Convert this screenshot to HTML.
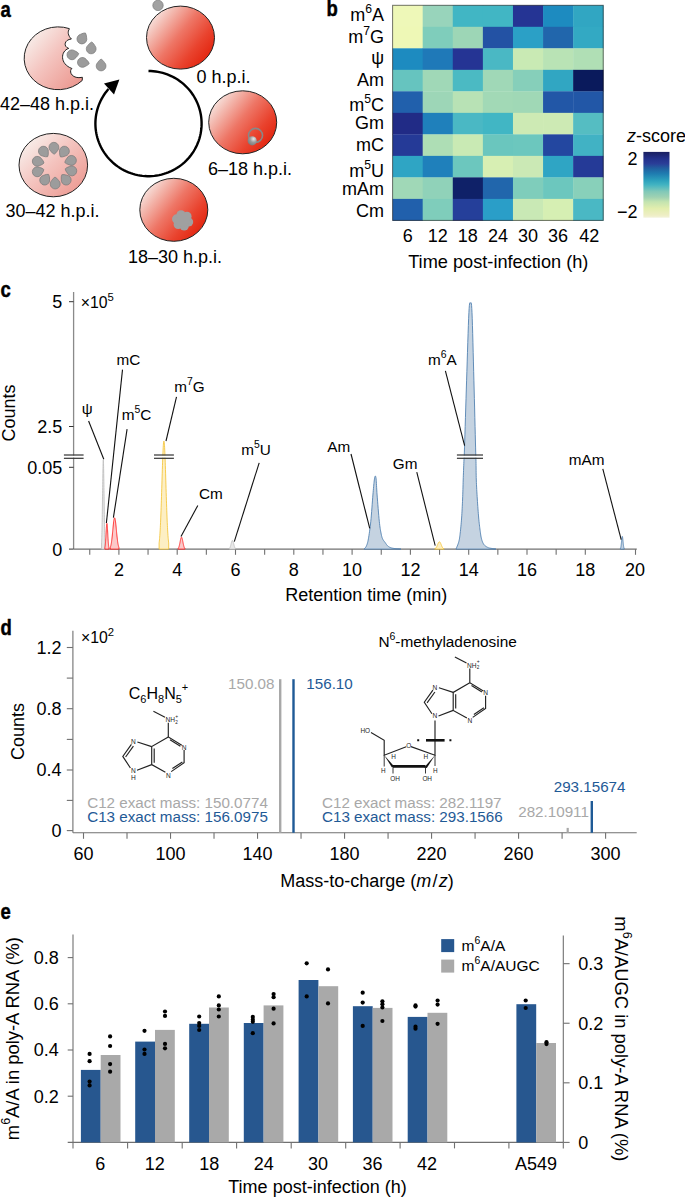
<!DOCTYPE html>
<html><head><meta charset="utf-8"><style>
html,body{margin:0;padding:0;background:#fff;}
svg{display:block;}
text{font-family:"Liberation Sans",sans-serif;}
</style></head><body>
<svg width="685" height="1197" viewBox="0 0 685 1197" font-family="Liberation Sans, sans-serif">
<defs>
<linearGradient id="gred" x1="0.08" y1="0.12" x2="0.98" y2="0.8">
 <stop offset="0" stop-color="#f8ece8"/>
 <stop offset="0.2" stop-color="#f3b8ae"/>
 <stop offset="0.46" stop-color="#ee7666"/>
 <stop offset="0.74" stop-color="#e9432e"/>
 <stop offset="1" stop-color="#e2200a"/>
</linearGradient>
<linearGradient id="gpink" x1="0.1" y1="0.1" x2="0.95" y2="0.9">
 <stop offset="0" stop-color="#f8f0ec"/>
 <stop offset="0.45" stop-color="#f4c4bf"/>
 <stop offset="1" stop-color="#ec9890"/>
</linearGradient>
<radialGradient id="gnuc" cx="0.65" cy="0.3" r="0.75">
 <stop offset="0" stop-color="#e8e8e8"/>
 <stop offset="0.5" stop-color="#9a9a9a"/>
 <stop offset="1" stop-color="#7a7a7a"/>
</radialGradient>
<linearGradient id="gbar" x1="0" y1="0" x2="0" y2="1">
 <stop offset="0" stop-color="#1a1f60"/>
 <stop offset="0.1" stop-color="#23308a"/>
 <stop offset="0.18" stop-color="#2a3e98"/>
 <stop offset="0.25" stop-color="#2160a0"/>
 <stop offset="0.33" stop-color="#1f7cb0"/>
 <stop offset="0.43" stop-color="#2ca0bc"/>
 <stop offset="0.5" stop-color="#42b4c2"/>
 <stop offset="0.6" stop-color="#80c8b8"/>
 <stop offset="0.69" stop-color="#a0d2b2"/>
 <stop offset="0.76" stop-color="#c4e4b0"/>
 <stop offset="0.86" stop-color="#e2eeae"/>
 <stop offset="0.96" stop-color="#eeeec4"/>
 <stop offset="1" stop-color="#f2f2da"/>
</linearGradient>
</defs>
<rect width="685" height="1197" fill="#fff"/>
<text transform="translate(0.5,17.0) scale(0.86,1)" font-size="21.5" font-weight="bold" stroke="#000" stroke-width="0.45">a</text>
<path d="M148.50,71.00 L150.90,71.05 L153.30,71.22 L155.68,71.48 L158.06,71.86 L160.41,72.34 L162.74,72.93 L165.03,73.61 L167.30,74.41 L169.52,75.30 L171.71,76.29 L173.84,77.38 L175.93,78.56 L177.96,79.83 L179.92,81.20 L181.83,82.65 L183.66,84.18 L185.43,85.80 L187.11,87.49 L188.72,89.26 L190.25,91.10 L191.69,93.00 L193.04,94.96 L194.30,96.99 L195.47,99.07 L196.54,101.20 L197.52,103.37 L198.39,105.59 L199.16,107.84 L199.83,110.13 L200.39,112.44 L200.85,114.78 L201.20,117.13 L201.44,119.50 L201.57,121.87 L201.60,124.25 L201.51,126.63 L201.32,129.00 L201.02,131.36 L200.61,133.70 L200.10,136.03 L199.48,138.33 L198.75,140.59 L197.92,142.83 L197.00,145.02 L195.97,147.17 L194.84,149.27 L193.63,151.32 L192.31,153.32 L190.91,155.25 L189.42,157.12 L187.85,158.92 L186.20,160.64 L184.47,162.29 L182.67,163.86 L180.79,165.35 L178.86,166.76 L176.85,168.07 L174.80,169.30 L172.68,170.43 L170.52,171.46 L168.31,172.40 L166.06,173.24 L163.78,173.97 L161.47,174.61 L159.12,175.14 L156.76,175.56 L154.38,175.88 L151.99,176.09 L149.59,176.19 L147.19,176.18 L144.79,176.07 L142.40,175.85 L140.02,175.52 L137.66,175.09 L135.32,174.55 L133.00,173.91 L130.72,173.17 L128.48,172.32 L126.28,171.37 L124.12,170.33 L122.01,169.19 L119.96,167.95 L117.96,166.63 L116.03,165.22 L114.16,163.72 L112.37,162.14 L110.64,160.48 L109.00,158.75 L107.43,156.95 L105.95,155.07 L104.56,153.13 L103.26,151.14 L102.05,149.08 L100.93,146.97 L99.91,144.82 L98.99,142.62 L98.18,140.38 L97.46,138.11 L96.85,135.81 L96.35,133.49 L95.95,131.14 L95.66,128.78 L95.48,126.41 L95.40,124.03 L95.44,121.65 L95.58,119.27 L95.83,116.91 L96.19,114.56 L96.66,112.22 L97.23,109.91 L97.91,107.63 L98.69,105.38 L99.57,103.17 L100.55,101.00 L101.63,98.87 L102.81,96.80 L104.08,94.78 L105.44,92.82 L106.89,90.92 L108.42,89.09" fill="none" stroke="#000" stroke-width="2.4"/>
<path d="M119.4,79.6 L104.0,83.6 L114.0,94.4 Z" fill="#000"/>
<circle cx="158.0" cy="5.4" r="5.2" fill="#a2a2a2" stroke="#7a7a7a" stroke-width="0.7"/>
<ellipse cx="180.5" cy="37.6" rx="34.0" ry="31.5" fill="url(#gred)" stroke="#222" stroke-width="1"/>
<text x="196.50" y="82.50" font-size="18" text-anchor="start" fill="#000" >0 h.p.i.</text>
<ellipse cx="242.7" cy="122.3" rx="34.0" ry="31.5" fill="url(#gred)" stroke="#222" stroke-width="1"/>
<circle cx="255.5" cy="135.4" r="7.0" fill="none" stroke="#888" stroke-width="1.6"/>
<circle cx="252.2" cy="140.8" r="4.6" fill="url(#gnuc)"/>
<text x="208.00" y="175.00" font-size="18" text-anchor="start" fill="#000" >6–18 h.p.i.</text>
<ellipse cx="173.8" cy="209.8" rx="34.0" ry="31.5" fill="url(#gred)" stroke="#222" stroke-width="1"/>
<circle cx="188.59" cy="221.90" r="4.6" fill="#a0a0a0"/><circle cx="184.20" cy="226.00" r="4.6" fill="#a0a0a0"/><circle cx="178.22" cy="224.50" r="4.6" fill="#a0a0a0"/><circle cx="176.61" cy="218.90" r="4.6" fill="#a0a0a0"/><circle cx="181.00" cy="214.80" r="4.6" fill="#a0a0a0"/><circle cx="186.98" cy="216.30" r="4.6" fill="#a0a0a0"/>
<circle cx="182.6" cy="220.4" r="6.5" fill="#a0a0a0"/>
<text x="128.00" y="262.50" font-size="18" text-anchor="start" fill="#000" >18–30 h.p.i.</text>
<ellipse cx="53.3" cy="165.1" rx="34.3" ry="31.7" fill="url(#gpink)" stroke="#222" stroke-width="1"/>
<path d="M0.00,-6.93 Q1.91,-5.98 3.46,-3.54 A4.95,4.95 0 1 1 -3.46,-3.54 Q-1.91,-5.98 0.00,-6.93 Z" transform="translate(53.90,147.30) rotate(177.8)" fill="#9c9c9c" stroke="#7c7c7c" stroke-width="0.7"/>
<path d="M0.00,-6.93 Q1.91,-5.98 3.46,-3.54 A4.95,4.95 0 1 1 -3.46,-3.54 Q-1.91,-5.98 0.00,-6.93 Z" transform="translate(64.40,151.20) rotate(214.1)" fill="#9c9c9c" stroke="#7c7c7c" stroke-width="0.7"/>
<path d="M0.00,-6.93 Q1.91,-5.98 3.46,-3.54 A4.95,4.95 0 1 1 -3.46,-3.54 Q-1.91,-5.98 0.00,-6.93 Z" transform="translate(71.40,160.40) rotate(252.5)" fill="#9c9c9c" stroke="#7c7c7c" stroke-width="0.7"/>
<path d="M0.00,-6.93 Q1.91,-5.98 3.46,-3.54 A4.95,4.95 0 1 1 -3.46,-3.54 Q-1.91,-5.98 0.00,-6.93 Z" transform="translate(71.80,170.90) rotate(-73.2)" fill="#9c9c9c" stroke="#7c7c7c" stroke-width="0.7"/>
<path d="M0.00,-6.93 Q1.91,-5.98 3.46,-3.54 A4.95,4.95 0 1 1 -3.46,-3.54 Q-1.91,-5.98 0.00,-6.93 Z" transform="translate(66.20,180.10) rotate(-38.9)" fill="#9c9c9c" stroke="#7c7c7c" stroke-width="0.7"/>
<path d="M0.00,-6.93 Q1.91,-5.98 3.46,-3.54 A4.95,4.95 0 1 1 -3.46,-3.54 Q-1.91,-5.98 0.00,-6.93 Z" transform="translate(55.20,184.00) rotate(-1.9)" fill="#9c9c9c" stroke="#7c7c7c" stroke-width="0.7"/>
<path d="M0.00,-6.93 Q1.91,-5.98 3.46,-3.54 A4.95,4.95 0 1 1 -3.46,-3.54 Q-1.91,-5.98 0.00,-6.93 Z" transform="translate(44.70,180.10) rotate(34.5)" fill="#9c9c9c" stroke="#7c7c7c" stroke-width="0.7"/>
<path d="M0.00,-6.93 Q1.91,-5.98 3.46,-3.54 A4.95,4.95 0 1 1 -3.46,-3.54 Q-1.91,-5.98 0.00,-6.93 Z" transform="translate(37.30,171.80) rotate(70.6)" fill="#9c9c9c" stroke="#7c7c7c" stroke-width="0.7"/>
<path d="M0.00,-6.93 Q1.91,-5.98 3.46,-3.54 A4.95,4.95 0 1 1 -3.46,-3.54 Q-1.91,-5.98 0.00,-6.93 Z" transform="translate(37.30,161.30) rotate(104.3)" fill="#9c9c9c" stroke="#7c7c7c" stroke-width="0.7"/>
<path d="M0.00,-6.93 Q1.91,-5.98 3.46,-3.54 A4.95,4.95 0 1 1 -3.46,-3.54 Q-1.91,-5.98 0.00,-6.93 Z" transform="translate(43.40,151.20) rotate(142.3)" fill="#9c9c9c" stroke="#7c7c7c" stroke-width="0.7"/>
<text x="5.50" y="216.50" font-size="18" text-anchor="start" fill="#000" >30–42 h.p.i.</text>
<path d="M69.3,28.6 L69.3,29.1 C67.5,31.5 67.8,35.5 71.4,39.0 C64.5,39.5 62.8,46.5 68.7,48.4 C60.5,51 59.5,64 71.9,68.5 C68.5,71 71.5,79.5 82.4,77.3 L82.2,80.5 A34,31.4 0 1 1 69.3,28.6 Z" fill="url(#gpink)" stroke="#222" stroke-width="1"/>
<path d="M0.00,-6.96 Q1.91,-5.94 3.48,-3.45 A4.9,4.9 0 1 1 -3.48,-3.45 Q-1.91,-5.94 0.00,-6.96 Z" transform="translate(81.90,39.00) rotate(30.0)" fill="#9c9c9c" stroke="#7c7c7c" stroke-width="0.7"/>
<path d="M0.00,-6.96 Q1.91,-5.94 3.48,-3.45 A4.9,4.9 0 1 1 -3.48,-3.45 Q-1.91,-5.94 0.00,-6.96 Z" transform="translate(91.20,48.90) rotate(5.0)" fill="#9c9c9c" stroke="#7c7c7c" stroke-width="0.7"/>
<path d="M0.00,-6.96 Q1.91,-5.94 3.48,-3.45 A4.9,4.9 0 1 1 -3.48,-3.45 Q-1.91,-5.94 0.00,-6.96 Z" transform="translate(71.90,54.80) rotate(80.0)" fill="#9c9c9c" stroke="#7c7c7c" stroke-width="0.7"/>
<path d="M0.00,-6.96 Q1.91,-5.94 3.48,-3.45 A4.9,4.9 0 1 1 -3.48,-3.45 Q-1.91,-5.94 0.00,-6.96 Z" transform="translate(82.40,62.40) rotate(100.0)" fill="#9c9c9c" stroke="#7c7c7c" stroke-width="0.7"/>
<path d="M0.00,-6.96 Q1.91,-5.94 3.48,-3.45 A4.9,4.9 0 1 1 -3.48,-3.45 Q-1.91,-5.94 0.00,-6.96 Z" transform="translate(101.10,66.00) rotate(0.0)" fill="#9c9c9c" stroke="#7c7c7c" stroke-width="0.7"/>
<text x="0.00" y="109.50" font-size="18" text-anchor="start" fill="#000" >42–48 h.p.i.</text>
<text transform="translate(326.4,15.9) scale(0.86,1)" font-size="21.5" font-weight="bold" stroke="#000" stroke-width="0.45">b</text>
<rect x="392.60" y="5.30" width="30.39" height="21.81" fill="#eef8b8" />
<rect x="422.69" y="5.30" width="30.39" height="21.81" fill="#98d4bb" />
<rect x="452.78" y="5.30" width="30.39" height="21.81" fill="#41b6c4" />
<rect x="482.87" y="5.30" width="30.39" height="21.81" fill="#41b6c4" />
<rect x="512.96" y="5.30" width="30.39" height="21.81" fill="#253494" />
<rect x="543.05" y="5.30" width="30.39" height="21.81" fill="#1d8bc0" />
<rect x="573.14" y="5.30" width="30.39" height="21.81" fill="#31a6c2" />
<rect x="392.60" y="26.81" width="30.39" height="21.81" fill="#eef8b6" />
<rect x="422.69" y="26.81" width="30.39" height="21.81" fill="#7fcdbb" />
<rect x="452.78" y="26.81" width="30.39" height="21.81" fill="#9dd6b6" />
<rect x="482.87" y="26.81" width="30.39" height="21.81" fill="#2352a4" />
<rect x="512.96" y="26.81" width="30.39" height="21.81" fill="#2ba0c6" />
<rect x="543.05" y="26.81" width="30.39" height="21.81" fill="#2166ac" />
<rect x="573.14" y="26.81" width="30.39" height="21.81" fill="#33a9c3" />
<rect x="392.60" y="48.32" width="30.39" height="21.81" fill="#1d8bc0" />
<rect x="422.69" y="48.32" width="30.39" height="21.81" fill="#1f79b8" />
<rect x="452.78" y="48.32" width="30.39" height="21.81" fill="#253494" />
<rect x="482.87" y="48.32" width="30.39" height="21.81" fill="#4ab8c4" />
<rect x="512.96" y="48.32" width="30.39" height="21.81" fill="#c9eab4" />
<rect x="543.05" y="48.32" width="30.39" height="21.81" fill="#b9e3b5" />
<rect x="573.14" y="48.32" width="30.39" height="21.81" fill="#b0dfb5" />
<rect x="392.60" y="69.83" width="30.39" height="21.81" fill="#66c4bf" />
<rect x="422.69" y="69.83" width="30.39" height="21.81" fill="#a0d8b7" />
<rect x="452.78" y="69.83" width="30.39" height="21.81" fill="#4bbac3" />
<rect x="482.87" y="69.83" width="30.39" height="21.81" fill="#a0d8b7" />
<rect x="512.96" y="69.83" width="30.39" height="21.81" fill="#86cfba" />
<rect x="543.05" y="69.83" width="30.39" height="21.81" fill="#31a6c2" />
<rect x="573.14" y="69.83" width="30.39" height="21.81" fill="#0a1a5c" />
<rect x="392.60" y="91.34" width="30.39" height="21.81" fill="#2160ac" />
<rect x="422.69" y="91.34" width="30.39" height="21.81" fill="#9dd6b7" />
<rect x="452.78" y="91.34" width="30.39" height="21.81" fill="#b8e2b5" />
<rect x="482.87" y="91.34" width="30.39" height="21.81" fill="#a2d9b6" />
<rect x="512.96" y="91.34" width="30.39" height="21.81" fill="#a0d8b6" />
<rect x="543.05" y="91.34" width="30.39" height="21.81" fill="#2257a7" />
<rect x="573.14" y="91.34" width="30.39" height="21.81" fill="#2257a7" />
<rect x="392.60" y="112.85" width="30.39" height="21.81" fill="#212b86" />
<rect x="422.69" y="112.85" width="30.39" height="21.81" fill="#1f80bb" />
<rect x="452.78" y="112.85" width="30.39" height="21.81" fill="#4ab8c4" />
<rect x="482.87" y="112.85" width="30.39" height="21.81" fill="#41b6c4" />
<rect x="512.96" y="112.85" width="30.39" height="21.81" fill="#cdeab4" />
<rect x="543.05" y="112.85" width="30.39" height="21.81" fill="#cdeab4" />
<rect x="573.14" y="112.85" width="30.39" height="21.81" fill="#55bdc2" />
<rect x="392.60" y="134.36" width="30.39" height="21.81" fill="#253a97" />
<rect x="422.69" y="134.36" width="30.39" height="21.81" fill="#aedeb5" />
<rect x="452.78" y="134.36" width="30.39" height="21.81" fill="#c9eab4" />
<rect x="482.87" y="134.36" width="30.39" height="21.81" fill="#6ac6be" />
<rect x="512.96" y="134.36" width="30.39" height="21.81" fill="#6cc7be" />
<rect x="543.05" y="134.36" width="30.39" height="21.81" fill="#2347a0" />
<rect x="573.14" y="134.36" width="30.39" height="21.81" fill="#41b2c4" />
<rect x="392.60" y="155.87" width="30.39" height="21.81" fill="#2fa5c4" />
<rect x="422.69" y="155.87" width="30.39" height="21.81" fill="#1f80bb" />
<rect x="452.78" y="155.87" width="30.39" height="21.81" fill="#6cc7be" />
<rect x="482.87" y="155.87" width="30.39" height="21.81" fill="#d7efb3" />
<rect x="512.96" y="155.87" width="30.39" height="21.81" fill="#cbe9b5" />
<rect x="543.05" y="155.87" width="30.39" height="21.81" fill="#2fa5c4" />
<rect x="573.14" y="155.87" width="30.39" height="21.81" fill="#253a97" />
<rect x="392.60" y="177.38" width="30.39" height="21.81" fill="#a0d8b7" />
<rect x="422.69" y="177.38" width="30.39" height="21.81" fill="#90d2b9" />
<rect x="452.78" y="177.38" width="30.39" height="21.81" fill="#0f2168" />
<rect x="482.87" y="177.38" width="30.39" height="21.81" fill="#2166ac" />
<rect x="512.96" y="177.38" width="30.39" height="21.81" fill="#7fcdbb" />
<rect x="543.05" y="177.38" width="30.39" height="21.81" fill="#6cc7be" />
<rect x="573.14" y="177.38" width="30.39" height="21.81" fill="#88d0ba" />
<rect x="392.60" y="198.89" width="30.39" height="21.81" fill="#2160ac" />
<rect x="422.69" y="198.89" width="30.39" height="21.81" fill="#7fcdbb" />
<rect x="452.78" y="198.89" width="30.39" height="21.81" fill="#253f9a" />
<rect x="482.87" y="198.89" width="30.39" height="21.81" fill="#2a9ec8" />
<rect x="512.96" y="198.89" width="30.39" height="21.81" fill="#c9e9b5" />
<rect x="543.05" y="198.89" width="30.39" height="21.81" fill="#d6efb3" />
<rect x="573.14" y="198.89" width="30.39" height="21.81" fill="#4ab8c4" />
<rect x="392.6" y="5.3" width="210.63" height="215.10" fill="none" stroke="#000" stroke-opacity="0.55" stroke-width="1"/>
<text x="384.00" y="21.40" font-size="18" text-anchor="end" fill="#000" >m<tspan font-size="12.2" dy="-8.3">6</tspan><tspan dy="8.3">A</tspan></text>
<text x="384.00" y="43.30" font-size="18" text-anchor="end" fill="#000" >m<tspan font-size="12.2" dy="-8.3">7</tspan><tspan dy="8.3">G</tspan></text>
<text x="384.00" y="64.00" font-size="18" text-anchor="end" fill="#000" >ψ</text>
<text x="384.00" y="86.40" font-size="18" text-anchor="end" fill="#000" >Am</text>
<text x="384.00" y="110.80" font-size="18" text-anchor="end" fill="#000" >m<tspan font-size="12.2" dy="-8.3">5</tspan><tspan dy="8.3">C</tspan></text>
<text x="384.00" y="128.70" font-size="18" text-anchor="end" fill="#000" >Gm</text>
<text x="384.00" y="150.60" font-size="18" text-anchor="end" fill="#000" >mC</text>
<text x="384.00" y="176.90" font-size="18" text-anchor="end" fill="#000" >m<tspan font-size="12.2" dy="-8.3">5</tspan><tspan dy="8.3">U</tspan></text>
<text x="384.00" y="195.30" font-size="18" text-anchor="end" fill="#000" >mAm</text>
<text x="384.00" y="217.40" font-size="18" text-anchor="end" fill="#000" >Cm</text>
<text x="407.65" y="242.00" font-size="18" text-anchor="middle" fill="#000" >6</text>
<text x="437.74" y="242.00" font-size="18" text-anchor="middle" fill="#000" >12</text>
<text x="467.83" y="242.00" font-size="18" text-anchor="middle" fill="#000" >18</text>
<text x="497.92" y="242.00" font-size="18" text-anchor="middle" fill="#000" >24</text>
<text x="528.00" y="242.00" font-size="18" text-anchor="middle" fill="#000" >30</text>
<text x="558.10" y="242.00" font-size="18" text-anchor="middle" fill="#000" >36</text>
<text x="589.39" y="242.00" font-size="18" text-anchor="middle" fill="#000" >42</text>
<text x="498.30" y="268.00" font-size="18.2" text-anchor="middle" fill="#000" >Time post-infection (h)</text>
<rect x="643.4" y="151.9" width="26.1" height="65.8" fill="url(#gbar)"/>
<text x="627.00" y="142.00" font-size="18" text-anchor="start" fill="#000" ><tspan font-style="italic">z</tspan>-score</text>
<text x="637.50" y="164.80" font-size="18" text-anchor="end" fill="#000" >2</text>
<text x="637.50" y="218.00" font-size="18" text-anchor="end" fill="#000" >−2</text>
<text transform="translate(0.4,297.0) scale(0.86,1)" font-size="21.5" font-weight="bold" stroke="#000" stroke-width="0.45">c</text>
<line x1="73.60" y1="292.00" x2="73.60" y2="549.10" stroke="#8a8a8a" stroke-width="1.3" />
<line x1="73.60" y1="549.10" x2="636.80" y2="549.10" stroke="#707070" stroke-width="1.1" />
<line x1="69.00" y1="301.70" x2="73.60" y2="301.70" stroke="#333" stroke-width="1.0" />
<line x1="69.00" y1="426.50" x2="73.60" y2="426.50" stroke="#333" stroke-width="1.0" />
<line x1="69.00" y1="467.30" x2="73.60" y2="467.30" stroke="#333" stroke-width="1.0" />
<line x1="69.00" y1="549.10" x2="73.60" y2="549.10" stroke="#333" stroke-width="1.0" />
<text x="62.20" y="308.20" font-size="18" text-anchor="end" fill="#000" >5</text>
<text x="62.20" y="433.20" font-size="18" text-anchor="end" fill="#000" >2.5</text>
<text x="62.20" y="473.80" font-size="18" text-anchor="end" fill="#000" >0.05</text>
<text x="62.20" y="555.50" font-size="18" text-anchor="end" fill="#000" >0</text>
<text x="80.80" y="308.20" font-size="15.8" text-anchor="start" fill="#000" >×10<tspan font-size="11.3" dy="-7">5</tspan></text>
<text transform="translate(14.6,441.5) rotate(-90)" font-size="18" font-family="Liberation Sans, sans-serif">Counts</text>
<line x1="89.75" y1="549.10" x2="89.75" y2="554.80" stroke="#707070" stroke-width="1.1" />
<line x1="118.90" y1="549.10" x2="118.90" y2="554.80" stroke="#707070" stroke-width="1.1" />
<line x1="148.05" y1="549.10" x2="148.05" y2="554.80" stroke="#707070" stroke-width="1.1" />
<line x1="177.20" y1="549.10" x2="177.20" y2="554.80" stroke="#707070" stroke-width="1.1" />
<line x1="206.35" y1="549.10" x2="206.35" y2="554.80" stroke="#707070" stroke-width="1.1" />
<line x1="235.50" y1="549.10" x2="235.50" y2="554.80" stroke="#707070" stroke-width="1.1" />
<line x1="264.65" y1="549.10" x2="264.65" y2="554.80" stroke="#707070" stroke-width="1.1" />
<line x1="293.80" y1="549.10" x2="293.80" y2="554.80" stroke="#707070" stroke-width="1.1" />
<line x1="322.95" y1="549.10" x2="322.95" y2="554.80" stroke="#707070" stroke-width="1.1" />
<line x1="352.10" y1="549.10" x2="352.10" y2="554.80" stroke="#707070" stroke-width="1.1" />
<line x1="381.25" y1="549.10" x2="381.25" y2="554.80" stroke="#707070" stroke-width="1.1" />
<line x1="410.40" y1="549.10" x2="410.40" y2="554.80" stroke="#707070" stroke-width="1.1" />
<line x1="439.55" y1="549.10" x2="439.55" y2="554.80" stroke="#707070" stroke-width="1.1" />
<line x1="468.70" y1="549.10" x2="468.70" y2="554.80" stroke="#707070" stroke-width="1.1" />
<line x1="497.85" y1="549.10" x2="497.85" y2="554.80" stroke="#707070" stroke-width="1.1" />
<line x1="527.00" y1="549.10" x2="527.00" y2="554.80" stroke="#707070" stroke-width="1.1" />
<line x1="556.15" y1="549.10" x2="556.15" y2="554.80" stroke="#707070" stroke-width="1.1" />
<line x1="585.30" y1="549.10" x2="585.30" y2="554.80" stroke="#707070" stroke-width="1.1" />
<line x1="635.50" y1="549.10" x2="635.50" y2="554.80" stroke="#707070" stroke-width="1.1" />
<text x="118.90" y="576.20" font-size="18" text-anchor="middle" fill="#000" >2</text>
<text x="177.20" y="576.20" font-size="18" text-anchor="middle" fill="#000" >4</text>
<text x="235.50" y="576.20" font-size="18" text-anchor="middle" fill="#000" >6</text>
<text x="293.80" y="576.20" font-size="18" text-anchor="middle" fill="#000" >8</text>
<text x="352.10" y="576.20" font-size="18" text-anchor="middle" fill="#000" >10</text>
<text x="410.40" y="576.20" font-size="18" text-anchor="middle" fill="#000" >12</text>
<text x="468.70" y="576.20" font-size="18" text-anchor="middle" fill="#000" >14</text>
<text x="527.00" y="576.20" font-size="18" text-anchor="middle" fill="#000" >16</text>
<text x="585.30" y="576.20" font-size="18" text-anchor="middle" fill="#000" >18</text>
<text x="635.00" y="576.20" font-size="18" text-anchor="middle" fill="#000" >20</text>
<text x="366.30" y="601.30" font-size="18" text-anchor="middle" fill="#000" >Retention time (min)</text>
<path d="M101.58,549.1 L101.58,542.76 L101.62,541.87 L101.66,540.89 L101.70,539.81 L101.75,538.62 L101.79,537.31 L101.83,535.89 L101.88,534.34 L101.92,532.67 L101.96,530.86 L102.01,528.93 L102.05,526.86 L102.09,524.67 L102.14,522.34 L102.18,519.89 L102.22,517.32 L102.27,514.64 L102.31,511.86 L102.35,508.98 L102.39,506.02 L102.44,503.00 L102.48,499.93 L102.52,496.83 L102.57,493.72 L102.61,490.61 L102.65,487.54 L102.70,484.51 L102.74,481.57 L102.78,478.72 L102.83,475.99 L102.87,473.41 L102.91,470.99 L102.95,468.77 L103.00,466.75 L103.04,464.96 L103.08,463.42 L103.13,462.13 L103.17,461.12 L103.21,460.39 L103.26,459.95 L103.30,459.80 L103.34,459.95 L103.39,460.39 L103.43,461.12 L103.47,462.13 L103.52,463.42 L103.56,464.96 L103.60,466.75 L103.64,468.77 L103.69,470.99 L103.73,473.41 L103.77,475.99 L103.82,478.72 L103.86,481.57 L103.90,484.51 L103.95,487.54 L103.99,490.61 L104.03,493.72 L104.08,496.83 L104.12,499.93 L104.16,503.00 L104.21,506.02 L104.25,508.98 L104.29,511.86 L104.33,514.64 L104.38,517.32 L104.42,519.89 L104.46,522.34 L104.51,524.67 L104.55,526.86 L104.59,528.93 L104.64,530.86 L104.68,532.67 L104.72,534.34 L104.77,535.89 L104.81,537.31 L104.85,538.62 L104.90,539.81 L104.94,540.89 L104.98,541.87 L105.02,542.76 L105.02,549.1 Z" fill="#e8e8e8" stroke="#bdbdbd" stroke-width="0.85" stroke-linejoin="round"/>
<path d="M104.86,549.1 L104.86,547.66 L104.91,547.44 L104.96,547.19 L105.01,546.91 L105.06,546.61 L105.12,546.27 L105.17,545.89 L105.22,545.48 L105.27,545.03 L105.32,544.54 L105.37,544.01 L105.42,543.44 L105.47,542.83 L105.52,542.18 L105.57,541.49 L105.62,540.76 L105.68,539.99 L105.73,539.18 L105.78,538.35 L105.83,537.48 L105.88,536.59 L105.93,535.68 L105.98,534.76 L106.03,533.82 L106.08,532.89 L106.14,531.96 L106.19,531.04 L106.24,530.14 L106.29,529.27 L106.34,528.43 L106.39,527.63 L106.44,526.89 L106.49,526.20 L106.54,525.57 L106.59,525.01 L106.65,524.53 L106.70,524.13 L106.75,523.81 L106.80,523.58 L106.85,523.45 L106.90,523.40 L106.95,523.45 L107.00,523.58 L107.05,523.81 L107.10,524.13 L107.16,524.53 L107.21,525.01 L107.26,525.57 L107.31,526.20 L107.36,526.89 L107.41,527.63 L107.46,528.43 L107.51,529.27 L107.56,530.14 L107.61,531.04 L107.67,531.96 L107.72,532.89 L107.77,533.82 L107.82,534.76 L107.87,535.68 L107.92,536.59 L107.97,537.48 L108.02,538.35 L108.07,539.18 L108.12,539.99 L108.18,540.76 L108.23,541.49 L108.28,542.18 L108.33,542.83 L108.38,543.44 L108.43,544.01 L108.48,544.54 L108.53,545.03 L108.58,545.48 L108.63,545.89 L108.69,546.27 L108.74,546.61 L108.79,546.91 L108.84,547.19 L108.89,547.44 L108.94,547.66 L108.94,549.1 Z" fill="#fcc9c9" stroke="#ff1a1a" stroke-width="0.85" stroke-linejoin="round"/>
<path d="M110.28,549.1 L110.28,547.34 L110.39,547.07 L110.50,546.77 L110.60,546.44 L110.71,546.06 L110.82,545.65 L110.93,545.19 L111.04,544.69 L111.14,544.14 L111.25,543.55 L111.36,542.91 L111.47,542.21 L111.58,541.47 L111.68,540.67 L111.79,539.83 L111.90,538.94 L112.01,538.00 L112.12,537.02 L112.22,536.00 L112.33,534.95 L112.44,533.86 L112.55,532.76 L112.66,531.63 L112.76,530.50 L112.87,529.36 L112.98,528.22 L113.09,527.10 L113.20,526.01 L113.30,524.95 L113.41,523.93 L113.52,522.96 L113.63,522.05 L113.74,521.21 L113.84,520.44 L113.95,519.76 L114.06,519.18 L114.17,518.69 L114.28,518.30 L114.38,518.02 L114.49,517.86 L114.60,517.80 L114.71,517.86 L114.82,518.02 L114.92,518.30 L115.03,518.69 L115.14,519.18 L115.25,519.76 L115.36,520.44 L115.46,521.21 L115.57,522.05 L115.68,522.96 L115.79,523.93 L115.90,524.95 L116.00,526.01 L116.11,527.10 L116.22,528.22 L116.33,529.36 L116.44,530.50 L116.54,531.63 L116.65,532.76 L116.76,533.86 L116.87,534.95 L116.98,536.00 L117.08,537.02 L117.19,538.00 L117.30,538.94 L117.41,539.83 L117.52,540.67 L117.62,541.47 L117.73,542.21 L117.84,542.91 L117.95,543.55 L118.06,544.14 L118.16,544.69 L118.27,545.19 L118.38,545.65 L118.49,546.06 L118.60,546.44 L118.70,546.77 L118.81,547.07 L118.92,547.34 L118.92,549.1 Z" fill="#fcc9c9" stroke="#ff1a1a" stroke-width="0.85" stroke-linejoin="round"/>
<path d="M159.10,549.1 L159.10,543.03 L159.22,542.10 L159.34,541.06 L159.46,539.90 L159.58,538.61 L159.70,537.18 L159.82,535.61 L159.94,533.88 L160.06,531.99 L160.18,529.93 L160.30,527.71 L160.42,525.31 L160.54,522.74 L160.66,520.00 L160.78,517.08 L160.90,514.01 L161.02,510.77 L161.14,507.39 L161.26,503.87 L161.38,500.23 L161.50,496.48 L161.62,492.66 L161.74,488.77 L161.86,484.85 L161.98,480.91 L162.10,477.00 L162.22,473.14 L162.34,469.35 L162.46,465.68 L162.58,462.16 L162.70,458.81 L162.82,455.67 L162.94,452.76 L163.06,450.13 L163.18,447.78 L163.30,445.76 L163.42,444.07 L163.54,442.74 L163.66,441.78 L163.78,441.19 L163.90,441.00 L164.02,441.19 L164.14,441.78 L164.26,442.74 L164.38,444.07 L164.50,445.76 L164.62,447.78 L164.74,450.13 L164.86,452.76 L164.98,455.67 L165.10,458.81 L165.22,462.16 L165.34,465.68 L165.46,469.35 L165.58,473.14 L165.70,477.00 L165.82,480.91 L165.94,484.85 L166.06,488.77 L166.18,492.66 L166.30,496.48 L166.42,500.23 L166.54,503.87 L166.66,507.39 L166.78,510.77 L166.90,514.01 L167.02,517.08 L167.14,520.00 L167.26,522.74 L167.38,525.31 L167.50,527.71 L167.62,529.93 L167.74,531.99 L167.86,533.88 L167.98,535.61 L168.10,537.18 L168.22,538.61 L168.34,539.90 L168.46,541.06 L168.58,542.10 L168.70,543.03 L168.70,549.1 Z" fill="#fdefc4" stroke="#f4c436" stroke-width="0.85" stroke-linejoin="round"/>
<path d="M178.14,549.1 L178.14,548.43 L178.22,548.33 L178.31,548.22 L178.39,548.09 L178.48,547.95 L178.56,547.79 L178.64,547.61 L178.73,547.42 L178.81,547.22 L178.90,546.99 L178.98,546.75 L179.06,546.48 L179.15,546.20 L179.23,545.90 L179.32,545.58 L179.40,545.24 L179.48,544.88 L179.57,544.51 L179.65,544.12 L179.74,543.72 L179.82,543.31 L179.90,542.89 L179.99,542.46 L180.07,542.03 L180.16,541.59 L180.24,541.16 L180.32,540.74 L180.41,540.32 L180.49,539.92 L180.58,539.53 L180.66,539.16 L180.74,538.81 L180.83,538.49 L180.91,538.20 L181.00,537.95 L181.08,537.72 L181.16,537.54 L181.25,537.39 L181.33,537.29 L181.42,537.22 L181.50,537.20 L181.58,537.22 L181.67,537.29 L181.75,537.39 L181.84,537.54 L181.92,537.72 L182.00,537.95 L182.09,538.20 L182.17,538.49 L182.26,538.81 L182.34,539.16 L182.42,539.53 L182.51,539.92 L182.59,540.32 L182.68,540.74 L182.76,541.16 L182.84,541.59 L182.93,542.03 L183.01,542.46 L183.10,542.89 L183.18,543.31 L183.26,543.72 L183.35,544.12 L183.43,544.51 L183.52,544.88 L183.60,545.24 L183.68,545.58 L183.77,545.90 L183.85,546.20 L183.94,546.48 L184.02,546.75 L184.10,546.99 L184.19,547.22 L184.27,547.42 L184.36,547.61 L184.44,547.79 L184.52,547.95 L184.61,548.09 L184.69,548.22 L184.78,548.33 L184.86,548.43 L184.86,549.1 Z" fill="#fcc9c9" stroke="#ff1a1a" stroke-width="0.85" stroke-linejoin="round"/>
<path d="M229.28,549.1 L229.28,548.61 L229.36,548.54 L229.44,548.45 L229.51,548.36 L229.59,548.26 L229.67,548.14 L229.75,548.01 L229.83,547.87 L229.90,547.72 L229.98,547.56 L230.06,547.38 L230.14,547.19 L230.22,546.98 L230.29,546.76 L230.37,546.52 L230.45,546.28 L230.53,546.02 L230.61,545.74 L230.68,545.46 L230.76,545.17 L230.84,544.87 L230.92,544.56 L231.00,544.24 L231.07,543.93 L231.15,543.61 L231.23,543.30 L231.31,542.99 L231.39,542.68 L231.46,542.39 L231.54,542.10 L231.62,541.83 L231.70,541.58 L231.78,541.35 L231.85,541.13 L231.93,540.95 L232.01,540.78 L232.09,540.65 L232.17,540.54 L232.24,540.46 L232.32,540.42 L232.40,540.40 L232.48,540.42 L232.56,540.46 L232.63,540.54 L232.71,540.65 L232.79,540.78 L232.87,540.95 L232.95,541.13 L233.02,541.35 L233.10,541.58 L233.18,541.83 L233.26,542.10 L233.34,542.39 L233.41,542.68 L233.49,542.99 L233.57,543.30 L233.65,543.61 L233.73,543.93 L233.80,544.24 L233.88,544.56 L233.96,544.87 L234.04,545.17 L234.12,545.46 L234.19,545.74 L234.27,546.02 L234.35,546.28 L234.43,546.52 L234.51,546.76 L234.58,546.98 L234.66,547.19 L234.74,547.38 L234.82,547.56 L234.90,547.72 L234.97,547.87 L235.05,548.01 L235.13,548.14 L235.21,548.26 L235.29,548.36 L235.36,548.45 L235.44,548.54 L235.52,548.61 L235.52,549.1 Z" fill="#e8e8e8" stroke="#bdbdbd" stroke-width="0.85" stroke-linejoin="round"/>
<path d="M364.00,549.1 L364.00,549.10 L364.19,548.89 L364.44,548.64 L364.74,548.34 L365.07,548.00 L365.42,547.60 L365.77,547.14 L366.10,546.60 L366.40,546.00 L366.67,545.37 L366.92,544.73 L367.16,544.05 L367.40,543.30 L367.64,542.43 L367.88,541.42 L368.13,540.22 L368.40,538.80 L368.68,537.17 L368.98,535.36 L369.28,533.38 L369.59,531.24 L369.90,528.96 L370.21,526.54 L370.51,523.98 L370.80,521.30 L371.08,518.35 L371.36,515.06 L371.64,511.54 L371.92,507.93 L372.18,504.35 L372.44,500.92 L372.68,497.76 L372.90,495.00 L373.10,492.60 L373.29,490.42 L373.46,488.44 L373.62,486.66 L373.78,485.04 L373.92,483.56 L374.06,482.23 L374.20,481.00 L374.33,479.91 L374.45,478.97 L374.56,478.19 L374.67,477.55 L374.77,477.04 L374.88,476.65 L374.99,476.37 L375.10,476.20 L375.22,476.10 L375.34,476.06 L375.47,476.11 L375.59,476.30 L375.72,476.65 L375.85,477.19 L375.97,477.97 L376.10,479.00 L376.22,480.30 L376.32,481.83 L376.42,483.58 L376.53,485.53 L376.64,487.67 L376.77,489.97 L376.92,492.42 L377.10,495.00 L377.32,497.89 L377.58,501.19 L377.86,504.75 L378.16,508.42 L378.46,512.05 L378.76,515.51 L379.04,518.64 L379.30,521.30 L379.54,523.50 L379.76,525.39 L379.98,527.02 L380.19,528.43 L380.39,529.69 L380.59,530.83 L380.80,531.92 L381.00,533.00 L381.20,534.02 L381.38,534.91 L381.56,535.70 L381.74,536.39 L381.93,537.03 L382.13,537.63 L382.35,538.21 L382.60,538.80 L382.88,539.37 L383.18,539.90 L383.51,540.40 L383.85,540.86 L384.20,541.31 L384.54,541.74 L384.88,542.17 L385.20,542.60 L385.50,543.04 L385.79,543.47 L386.07,543.90 L386.35,544.31 L386.64,544.71 L386.93,545.10 L387.25,545.46 L387.60,545.80 L387.97,546.11 L388.34,546.41 L388.73,546.69 L389.14,546.94 L389.56,547.18 L390.01,547.41 L390.49,547.61 L391.00,547.80 L391.55,547.97 L392.14,548.11 L392.76,548.24 L393.40,548.35 L394.05,548.45 L394.71,548.54 L395.36,548.62 L396.00,548.70 L396.66,548.78 L397.37,548.84 L398.09,548.90 L398.81,548.96 L399.49,549.00 L400.10,549.04 L400.61,549.07 L401.00,549.10 L401.00,549.1 Z" fill="#c5d3e1" stroke="#4a7cad" stroke-width="0.85" stroke-linejoin="round"/>
<path d="M434.72,549.1 L434.72,548.85 L434.84,548.81 L434.95,548.75 L435.07,548.70 L435.19,548.63 L435.30,548.55 L435.42,548.47 L435.54,548.37 L435.66,548.26 L435.77,548.14 L435.89,548.01 L436.01,547.86 L436.12,547.71 L436.24,547.54 L436.36,547.35 L436.47,547.15 L436.59,546.94 L436.71,546.71 L436.83,546.47 L436.94,546.22 L437.06,545.96 L437.18,545.69 L437.29,545.42 L437.41,545.14 L437.53,544.85 L437.64,544.56 L437.76,544.27 L437.88,543.99 L438.00,543.71 L438.11,543.45 L438.23,543.19 L438.35,542.95 L438.46,542.72 L438.58,542.52 L438.70,542.33 L438.81,542.18 L438.93,542.04 L439.05,541.94 L439.17,541.86 L439.28,541.82 L439.40,541.80 L439.52,541.82 L439.63,541.86 L439.75,541.94 L439.87,542.04 L439.98,542.18 L440.10,542.33 L440.22,542.52 L440.34,542.72 L440.45,542.95 L440.57,543.19 L440.69,543.45 L440.80,543.71 L440.92,543.99 L441.04,544.27 L441.15,544.56 L441.27,544.85 L441.39,545.14 L441.51,545.42 L441.62,545.69 L441.74,545.96 L441.86,546.22 L441.97,546.47 L442.09,546.71 L442.21,546.94 L442.32,547.15 L442.44,547.35 L442.56,547.54 L442.68,547.71 L442.79,547.86 L442.91,548.01 L443.03,548.14 L443.14,548.26 L443.26,548.37 L443.38,548.47 L443.50,548.55 L443.61,548.63 L443.73,548.70 L443.85,548.75 L443.96,548.81 L444.08,548.85 L444.08,549.1 Z" fill="#fdefc4" stroke="#f4c436" stroke-width="0.85" stroke-linejoin="round"/>
<path d="M456.00,549.1 L456.00,549.10 L456.23,548.54 L456.54,547.80 L456.91,546.92 L457.31,545.94 L457.73,544.89 L458.13,543.81 L458.50,542.73 L458.80,541.70 L459.04,540.73 L459.25,539.79 L459.43,538.85 L459.59,537.88 L459.74,536.85 L459.88,535.74 L460.03,534.49 L460.20,533.10 L460.38,531.55 L460.56,529.87 L460.74,528.08 L460.92,526.20 L461.10,524.23 L461.28,522.20 L461.44,520.12 L461.60,518.00 L461.75,515.81 L461.89,513.52 L462.02,511.16 L462.15,508.74 L462.27,506.30 L462.39,503.84 L462.50,501.40 L462.60,499.00 L462.69,496.62 L462.78,494.24 L462.85,491.86 L462.92,489.47 L462.99,487.10 L463.05,484.72 L463.12,482.36 L463.20,480.00 L463.28,477.62 L463.37,475.20 L463.46,472.77 L463.55,470.36 L463.64,467.98 L463.73,465.68 L463.82,463.48 L463.90,461.40 L463.97,459.84 L464.02,458.94 L464.07,458.35 L464.11,457.72 L464.17,456.71 L464.25,454.97 L464.35,452.15 L464.50,447.90 L464.69,442.03 L464.91,434.78 L465.17,426.48 L465.44,417.43 L465.73,407.96 L466.03,398.39 L466.32,389.03 L466.60,380.20 L466.88,371.35 L467.18,361.93 L467.48,352.29 L467.78,342.76 L468.08,333.69 L468.37,325.41 L468.64,318.27 L468.90,312.60 L469.13,308.50 L469.35,305.69 L469.56,303.95 L469.75,303.03 L469.94,302.72 L470.12,302.78 L470.31,302.98 L470.50,303.10 L470.69,302.98 L470.87,302.78 L471.05,302.72 L471.23,303.03 L471.41,303.95 L471.60,305.69 L471.79,308.50 L472.00,312.60 L472.22,318.27 L472.45,325.41 L472.69,333.69 L472.94,342.76 L473.18,352.29 L473.43,361.93 L473.67,371.35 L473.90,380.20 L474.13,389.03 L474.37,398.39 L474.61,407.96 L474.84,417.43 L475.07,426.48 L475.27,434.78 L475.45,442.03 L475.60,447.90 L475.71,452.15 L475.79,454.97 L475.85,456.71 L475.89,457.72 L475.91,458.35 L475.94,458.94 L475.96,459.84 L476.00,461.40 L476.04,463.48 L476.07,465.68 L476.09,467.98 L476.11,470.36 L476.14,472.77 L476.18,475.20 L476.23,477.62 L476.30,480.00 L476.39,482.36 L476.49,484.72 L476.61,487.10 L476.73,489.48 L476.86,491.86 L477.01,494.24 L477.15,496.62 L477.30,499.00 L477.46,501.42 L477.62,503.91 L477.80,506.42 L477.97,508.92 L478.16,511.37 L478.34,513.72 L478.52,515.95 L478.70,518.00 L478.88,519.88 L479.05,521.64 L479.22,523.27 L479.40,524.81 L479.57,526.26 L479.75,527.65 L479.92,528.99 L480.10,530.30 L480.27,531.56 L480.43,532.76 L480.58,533.89 L480.74,534.96 L480.90,535.98 L481.08,536.96 L481.28,537.90 L481.50,538.80 L481.74,539.67 L482.00,540.49 L482.27,541.27 L482.55,542.00 L482.85,542.69 L483.18,543.34 L483.53,543.94 L483.90,544.50 L484.31,545.01 L484.75,545.47 L485.22,545.88 L485.71,546.24 L486.21,546.57 L486.72,546.87 L487.22,547.15 L487.70,547.40 L488.17,547.62 L488.63,547.79 L489.09,547.93 L489.56,548.04 L490.02,548.13 L490.50,548.22 L490.99,548.30 L491.50,548.40 L492.06,548.51 L492.68,548.61 L493.33,548.72 L493.99,548.81 L494.61,548.90 L495.18,548.98 L495.65,549.05 L496.00,549.10 L496.00,549.1 Z" fill="#c5d3e1" stroke="#4a7cad" stroke-width="0.85" stroke-linejoin="round"/>
<path d="M620.35,549.1 L620.35,548.67 L620.40,548.59 L620.45,548.50 L620.50,548.40 L620.54,548.28 L620.59,548.15 L620.64,548.00 L620.69,547.83 L620.74,547.64 L620.79,547.43 L620.84,547.20 L620.89,546.95 L620.93,546.68 L620.98,546.38 L621.03,546.05 L621.08,545.71 L621.13,545.34 L621.18,544.95 L621.23,544.53 L621.28,544.10 L621.32,543.64 L621.37,543.18 L621.42,542.69 L621.47,542.20 L621.52,541.71 L621.57,541.20 L621.62,540.71 L621.67,540.21 L621.71,539.73 L621.76,539.26 L621.81,538.82 L621.86,538.40 L621.91,538.01 L621.96,537.65 L622.01,537.33 L622.06,537.05 L622.10,536.82 L622.15,536.64 L622.20,536.51 L622.25,536.43 L622.30,536.40 L622.35,536.43 L622.40,536.51 L622.45,536.64 L622.50,536.82 L622.54,537.05 L622.59,537.33 L622.64,537.65 L622.69,538.01 L622.74,538.40 L622.79,538.82 L622.84,539.26 L622.88,539.73 L622.93,540.21 L622.98,540.71 L623.03,541.20 L623.08,541.71 L623.13,542.20 L623.18,542.69 L623.23,543.18 L623.27,543.64 L623.32,544.10 L623.37,544.53 L623.42,544.95 L623.47,545.34 L623.52,545.71 L623.57,546.05 L623.62,546.38 L623.66,546.68 L623.71,546.95 L623.76,547.20 L623.81,547.43 L623.86,547.64 L623.91,547.83 L623.96,548.00 L624.01,548.15 L624.05,548.28 L624.10,548.40 L624.15,548.50 L624.20,548.59 L624.25,548.67 L624.25,549.1 Z" fill="#c5d3e1" stroke="#4a7cad" stroke-width="0.85" stroke-linejoin="round"/>
<rect x="63.90" y="455.60" width="19.70" height="2.00" fill="#fff" />
<line x1="63.90" y1="455.00" x2="83.60" y2="455.00" stroke="#333" stroke-width="1.2" />
<line x1="63.90" y1="458.30" x2="83.60" y2="458.30" stroke="#333" stroke-width="1.2" />
<rect x="154.00" y="455.60" width="19.90" height="2.00" fill="#fff" />
<line x1="154.00" y1="455.00" x2="173.90" y2="455.00" stroke="#333" stroke-width="1.2" />
<line x1="154.00" y1="458.30" x2="173.90" y2="458.30" stroke="#333" stroke-width="1.2" />
<rect x="456.90" y="455.60" width="26.10" height="2.00" fill="#fff" />
<line x1="456.90" y1="455.00" x2="483.00" y2="455.00" stroke="#333" stroke-width="1.2" />
<line x1="456.90" y1="458.30" x2="483.00" y2="458.30" stroke="#333" stroke-width="1.2" />
<text x="81.80" y="414.40" font-size="15.3" text-anchor="start" fill="#000" >ψ</text>
<line x1="88.60" y1="421.00" x2="103.80" y2="459.30" stroke="#111" stroke-width="1.1" />
<text x="116.50" y="364.80" font-size="15.3" text-anchor="start" fill="#000" >mC</text>
<line x1="122.50" y1="369.60" x2="106.40" y2="523.00" stroke="#111" stroke-width="1.1" />
<text x="121.80" y="419.60" font-size="15.3" text-anchor="start" fill="#000" >m<tspan font-size="10.4" dy="-7.0">5</tspan><tspan dy="7.0">C</tspan></text>
<line x1="127.10" y1="429.20" x2="113.40" y2="517.70" stroke="#111" stroke-width="1.1" />
<text x="174.30" y="392.00" font-size="15.3" text-anchor="start" fill="#000" >m<tspan font-size="10.4" dy="-7.0">7</tspan><tspan dy="7.0">G</tspan></text>
<line x1="176.50" y1="396.80" x2="166.00" y2="441.00" stroke="#111" stroke-width="1.1" />
<text x="199.00" y="499.00" font-size="15.3" text-anchor="start" fill="#000" >Cm</text>
<line x1="197.80" y1="505.50" x2="181.00" y2="536.40" stroke="#111" stroke-width="1.1" />
<text x="241.30" y="454.70" font-size="15.3" text-anchor="start" fill="#000" >m<tspan font-size="10.4" dy="-7.0">5</tspan><tspan dy="7.0">U</tspan></text>
<line x1="259.20" y1="462.80" x2="234.30" y2="541.60" stroke="#111" stroke-width="1.1" />
<text x="327.30" y="452.30" font-size="15.3" text-anchor="start" fill="#000" >Am</text>
<line x1="351.00" y1="454.00" x2="369.70" y2="528.30" stroke="#111" stroke-width="1.1" />
<text x="392.80" y="469.30" font-size="15.3" text-anchor="start" fill="#000" >Gm</text>
<line x1="416.80" y1="472.20" x2="435.20" y2="545.70" stroke="#111" stroke-width="1.1" />
<text x="428.00" y="365.00" font-size="15.3" text-anchor="start" fill="#000" >m<tspan font-size="10.4" dy="-7.0">6</tspan><tspan dy="7.0">A</tspan></text>
<line x1="445.40" y1="370.80" x2="464.60" y2="445.60" stroke="#111" stroke-width="1.1" />
<text x="568.80" y="464.80" font-size="15.3" text-anchor="start" fill="#000" >mAm</text>
<line x1="602.80" y1="468.90" x2="621.20" y2="539.60" stroke="#111" stroke-width="1.1" />
<text transform="translate(0.6,635.0) scale(0.86,1)" font-size="21.5" font-weight="bold" stroke="#000" stroke-width="0.45">d</text>
<line x1="72.90" y1="630.80" x2="72.90" y2="832.80" stroke="#707070" stroke-width="1.1" />
<line x1="72.90" y1="832.80" x2="636.70" y2="832.80" stroke="#707070" stroke-width="1.1" />
<line x1="66.80" y1="647.50" x2="72.90" y2="647.50" stroke="#707070" stroke-width="1.1" />
<line x1="66.80" y1="678.10" x2="72.90" y2="678.10" stroke="#707070" stroke-width="1.1" />
<line x1="66.80" y1="708.70" x2="72.90" y2="708.70" stroke="#707070" stroke-width="1.1" />
<line x1="66.80" y1="739.40" x2="72.90" y2="739.40" stroke="#707070" stroke-width="1.1" />
<line x1="66.80" y1="770.00" x2="72.90" y2="770.00" stroke="#707070" stroke-width="1.1" />
<line x1="66.80" y1="800.40" x2="72.90" y2="800.40" stroke="#707070" stroke-width="1.1" />
<line x1="66.80" y1="830.60" x2="72.90" y2="830.60" stroke="#707070" stroke-width="1.1" />
<text x="61.50" y="653.90" font-size="18" text-anchor="end" fill="#000" >1.2</text>
<text x="61.50" y="715.10" font-size="18" text-anchor="end" fill="#000" >0.8</text>
<text x="61.50" y="776.40" font-size="18" text-anchor="end" fill="#000" >0.4</text>
<text x="61.50" y="837.00" font-size="18" text-anchor="end" fill="#000" >0</text>
<text x="81.00" y="643.20" font-size="15.8" text-anchor="start" fill="#000" >×10<tspan font-size="11.3" dy="-7">2</tspan></text>
<text transform="translate(24.3,760) rotate(-90)" font-size="18" font-family="Liberation Sans, sans-serif">Counts</text>
<line x1="83.50" y1="832.80" x2="83.50" y2="838.80" stroke="#707070" stroke-width="1.1" />
<line x1="127.01" y1="832.80" x2="127.01" y2="838.80" stroke="#707070" stroke-width="1.1" />
<line x1="170.52" y1="832.80" x2="170.52" y2="838.80" stroke="#707070" stroke-width="1.1" />
<line x1="214.02" y1="832.80" x2="214.02" y2="838.80" stroke="#707070" stroke-width="1.1" />
<line x1="257.53" y1="832.80" x2="257.53" y2="838.80" stroke="#707070" stroke-width="1.1" />
<line x1="301.04" y1="832.80" x2="301.04" y2="838.80" stroke="#707070" stroke-width="1.1" />
<line x1="344.55" y1="832.80" x2="344.55" y2="838.80" stroke="#707070" stroke-width="1.1" />
<line x1="388.06" y1="832.80" x2="388.06" y2="838.80" stroke="#707070" stroke-width="1.1" />
<line x1="431.56" y1="832.80" x2="431.56" y2="838.80" stroke="#707070" stroke-width="1.1" />
<line x1="475.07" y1="832.80" x2="475.07" y2="838.80" stroke="#707070" stroke-width="1.1" />
<line x1="518.58" y1="832.80" x2="518.58" y2="838.80" stroke="#707070" stroke-width="1.1" />
<line x1="562.09" y1="832.80" x2="562.09" y2="838.80" stroke="#707070" stroke-width="1.1" />
<line x1="605.60" y1="832.80" x2="605.60" y2="838.80" stroke="#707070" stroke-width="1.1" />
<text x="83.50" y="860.20" font-size="18" text-anchor="middle" fill="#000" >60</text>
<text x="170.52" y="860.20" font-size="18" text-anchor="middle" fill="#000" >100</text>
<text x="257.53" y="860.20" font-size="18" text-anchor="middle" fill="#000" >140</text>
<text x="344.55" y="860.20" font-size="18" text-anchor="middle" fill="#000" >180</text>
<text x="431.56" y="860.20" font-size="18" text-anchor="middle" fill="#000" >220</text>
<text x="518.58" y="860.20" font-size="18" text-anchor="middle" fill="#000" >260</text>
<text x="605.60" y="860.20" font-size="18" text-anchor="middle" fill="#000" >300</text>
<text x="366.90" y="887.30" font-size="18" text-anchor="middle" fill="#000" >Mass-to-charge (<tspan font-style="italic">m</tspan><tspan dx="1.2">/</tspan><tspan dx="1.2" font-style="italic">z</tspan>)</text>
<rect x="279.00" y="679.20" width="2.40" height="153.60" fill="#a8a8a8" />
<rect x="292.30" y="679.20" width="2.40" height="153.60" fill="#1f5a96" />
<rect x="590.60" y="801.00" width="2.40" height="31.80" fill="#1f5a96" />
<rect x="566.60" y="827.90" width="2.20" height="4.90" fill="#a8a8a8" />
<text x="274.50" y="689.30" font-size="15.2" text-anchor="end" fill="#a8a8a8" >150.08</text>
<text x="306.30" y="689.30" font-size="15.2" text-anchor="start" fill="#1f5a96" >156.10</text>
<text x="87.20" y="808.20" font-size="15.2" text-anchor="start" fill="#a8a8a8" >C12 exact mass: 150.0774</text>
<text x="87.20" y="822.40" font-size="15.2" text-anchor="start" fill="#1f5a96" >C13 exact mass: 156.0975</text>
<text x="322.00" y="808.20" font-size="15.2" text-anchor="start" fill="#a8a8a8" >C12 exact mass: 282.1197</text>
<text x="322.00" y="822.40" font-size="15.2" text-anchor="start" fill="#1f5a96" >C13 exact mass: 293.1566</text>
<text x="553.70" y="791.70" font-size="15.2" text-anchor="start" fill="#1f5a96" >293.15674</text>
<text x="518.20" y="817.00" font-size="15.2" text-anchor="start" fill="#a8a8a8" >282.10911</text>
<text x="128.80" y="699.10" font-size="16" text-anchor="start" fill="#000" >C<tspan font-size="11" dy="4">6</tspan><tspan dy="-4">H</tspan><tspan font-size="11" dy="4">8</tspan><tspan dy="-4">N</tspan><tspan font-size="11" dy="4">5</tspan><tspan font-size="11" dy="-12">+</tspan></text>
<text x="378.40" y="647.20" font-size="15.4" text-anchor="start" fill="#000" >N<tspan font-size="10.5" dy="-7.1">6</tspan><tspan dy="7.1">-methyladenosine</tspan></text>
<path d="M153.40,711.20 L165.00,717.20" stroke="#222" stroke-width="1.15" fill="none"/><path d="M168.30,722.80 L168.30,737.00 L181.80,745.20" stroke="#222" stroke-width="1.15" fill="none"/><path d="M170.00,739.80 L180.40,746.20" stroke="#222" stroke-width="1.15" fill="none"/><path d="M184.10,750.00 L184.10,762.60 L171.20,771.60" stroke="#222" stroke-width="1.15" fill="none"/><path d="M182.40,762.00 L172.40,768.60" stroke="#222" stroke-width="1.15" fill="none"/><path d="M165.40,772.20 L151.70,764.60 L151.70,746.60 L168.30,737.00" stroke="#222" stroke-width="1.15" fill="none"/><path d="M154.20,762.80 L154.20,748.40" stroke="#222" stroke-width="1.15" fill="none"/><path d="M151.70,746.60 L137.40,742.00" stroke="#222" stroke-width="1.15" fill="none"/><path d="M131.40,744.40 L122.80,756.40 L130.40,768.00" stroke="#222" stroke-width="1.15" fill="none"/><path d="M133.40,746.20 L125.60,757.00" stroke="#222" stroke-width="1.15" fill="none"/><path d="M137.00,770.20 L151.70,764.60" stroke="#222" stroke-width="1.15" fill="none"/><text x="184.10" y="749.60" font-size="6.6" text-anchor="middle" fill="#222">N</text><text x="168.30" y="777.60" font-size="6.6" text-anchor="middle" fill="#222">N</text><text x="133.40" y="744.20" font-size="6.6" text-anchor="middle" fill="#222">N</text><text x="133.40" y="772.60" font-size="6.6" text-anchor="middle" fill="#222">N</text><text x="133.40" y="779.80" font-size="6.6" text-anchor="middle" fill="#222">H</text><text x="165.60" y="721.90" font-size="6.6" fill="#222">NH<tspan font-size="4.6" dy="1.6">2</tspan></text><text x="175.20" y="717.60" font-size="5" fill="#222">+</text>
<path d="M454.90,657.00 L466.50,663.00" stroke="#222" stroke-width="1.15" fill="none"/><path d="M469.80,668.60 L469.80,682.80 L483.30,691.00" stroke="#222" stroke-width="1.15" fill="none"/><path d="M471.50,685.60 L481.90,692.00" stroke="#222" stroke-width="1.15" fill="none"/><path d="M485.60,695.80 L485.60,708.40 L472.70,717.40" stroke="#222" stroke-width="1.15" fill="none"/><path d="M483.90,707.80 L473.90,714.40" stroke="#222" stroke-width="1.15" fill="none"/><path d="M466.90,718.00 L453.20,710.40 L453.20,692.40 L469.80,682.80" stroke="#222" stroke-width="1.15" fill="none"/><path d="M455.70,708.60 L455.70,694.20" stroke="#222" stroke-width="1.15" fill="none"/><path d="M453.20,692.40 L438.90,687.80" stroke="#222" stroke-width="1.15" fill="none"/><path d="M432.90,690.20 L424.30,702.20 L431.90,713.80" stroke="#222" stroke-width="1.15" fill="none"/><path d="M434.90,692.00 L427.10,702.80" stroke="#222" stroke-width="1.15" fill="none"/><path d="M438.50,716.00 L453.20,710.40" stroke="#222" stroke-width="1.15" fill="none"/><text x="485.60" y="695.40" font-size="6.6" text-anchor="middle" fill="#222">N</text><text x="469.80" y="723.40" font-size="6.6" text-anchor="middle" fill="#222">N</text><text x="434.90" y="690.00" font-size="6.6" text-anchor="middle" fill="#222">N</text><text x="434.90" y="718.40" font-size="6.6" text-anchor="middle" fill="#222">N</text><text x="467.10" y="667.70" font-size="6.6" fill="#222">NH<tspan font-size="4.6" dy="1.6">2</tspan></text><text x="476.70" y="663.40" font-size="5" fill="#222">+</text>
<path d="M435,720.5 L435,755.2 L411.0,746.6" stroke="#222" stroke-width="1.15" fill="none"/>
<path d="M406.2,746.8 L384.2,755.2 L384.2,740.3 L371.0,732.6" stroke="#222" stroke-width="1.15" fill="none"/>
<path d="M384.2,755.2 L394.2,766.4 L391.8,767.2 Z" fill="#111"/>
<path d="M393,766.3 L425.5,766.3" stroke="#111" stroke-width="2.8"/>
<path d="M435,755.2 L424.2,767.4 L426.8,768.0 Z" fill="#111"/>
<path d="M384.2,755.2 L384.2,766.5 M393,766.3 L393,773.5 M425.5,766.3 L425.5,773.5 M435,755.2 L435,766" stroke="#222" stroke-width="0.9"/>
<path d="M426,740.3 L444.6,740.3" stroke="#111" stroke-width="2.6"/>
<path d="M417.2,740.3 L419.2,740.3 M449.4,740.3 L451.4,740.3" stroke="#111" stroke-width="2.0"/>
<text x="408.7" y="748.0" font-size="6.4" text-anchor="middle" fill="#222">O</text>
<text x="365.2" y="732.8" font-size="6.4" text-anchor="middle" fill="#222">HO</text>
<text x="383.3" y="773.2" font-size="6.4" text-anchor="middle" fill="#222">H</text>
<text x="393.5" y="758.8" font-size="6.4" text-anchor="middle" fill="#222">H</text>
<text x="425.8" y="758.8" font-size="6.4" text-anchor="middle" fill="#222">H</text>
<text x="435.2" y="773.2" font-size="6.4" text-anchor="middle" fill="#222">H</text>
<text x="395.0" y="781.2" font-size="6.4" text-anchor="middle" fill="#222">OH</text>
<text x="427.2" y="781.2" font-size="6.4" text-anchor="middle" fill="#222">OH</text>
<text transform="translate(0.6,918.7) scale(0.86,1)" font-size="21.5" font-weight="bold" stroke="#000" stroke-width="0.45">e</text>
<line x1="73.00" y1="934.50" x2="73.00" y2="1142.40" stroke="#707070" stroke-width="1.1" />
<line x1="67.70" y1="1142.40" x2="563.30" y2="1142.40" stroke="#707070" stroke-width="1.1" />
<line x1="563.30" y1="935.40" x2="563.30" y2="1142.40" stroke="#707070" stroke-width="1.1" />
<line x1="67.70" y1="1096.20" x2="73.00" y2="1096.20" stroke="#707070" stroke-width="1.1" />
<text x="58.70" y="1102.60" font-size="18" text-anchor="end" fill="#000" >0.2</text>
<line x1="67.70" y1="1050.00" x2="73.00" y2="1050.00" stroke="#707070" stroke-width="1.1" />
<text x="58.70" y="1056.40" font-size="18" text-anchor="end" fill="#000" >0.4</text>
<line x1="67.70" y1="1003.80" x2="73.00" y2="1003.80" stroke="#707070" stroke-width="1.1" />
<text x="58.70" y="1010.20" font-size="18" text-anchor="end" fill="#000" >0.6</text>
<line x1="67.70" y1="957.60" x2="73.00" y2="957.60" stroke="#707070" stroke-width="1.1" />
<text x="58.70" y="964.00" font-size="18" text-anchor="end" fill="#000" >0.8</text>
<line x1="563.30" y1="1142.40" x2="569.60" y2="1142.40" stroke="#707070" stroke-width="1.1" />
<text x="578.20" y="1148.80" font-size="18" text-anchor="start" fill="#000" >0</text>
<line x1="563.30" y1="1082.82" x2="569.60" y2="1082.82" stroke="#707070" stroke-width="1.1" />
<text x="578.20" y="1089.22" font-size="18" text-anchor="start" fill="#000" >0.1</text>
<line x1="563.30" y1="1023.24" x2="569.60" y2="1023.24" stroke="#707070" stroke-width="1.1" />
<text x="578.20" y="1029.64" font-size="18" text-anchor="start" fill="#000" >0.2</text>
<line x1="563.30" y1="963.66" x2="569.60" y2="963.66" stroke="#707070" stroke-width="1.1" />
<text x="578.20" y="970.06" font-size="18" text-anchor="start" fill="#000" >0.3</text>
<line x1="73.00" y1="1142.40" x2="73.00" y2="1148.40" stroke="#707070" stroke-width="1.1" />
<line x1="127.60" y1="1142.40" x2="127.60" y2="1148.40" stroke="#707070" stroke-width="1.1" />
<line x1="182.20" y1="1142.40" x2="182.20" y2="1148.40" stroke="#707070" stroke-width="1.1" />
<line x1="236.60" y1="1142.40" x2="236.60" y2="1148.40" stroke="#707070" stroke-width="1.1" />
<line x1="291.20" y1="1142.40" x2="291.20" y2="1148.40" stroke="#707070" stroke-width="1.1" />
<line x1="345.70" y1="1142.40" x2="345.70" y2="1148.40" stroke="#707070" stroke-width="1.1" />
<line x1="400.10" y1="1142.40" x2="400.10" y2="1148.40" stroke="#707070" stroke-width="1.1" />
<line x1="454.50" y1="1142.40" x2="454.50" y2="1148.40" stroke="#707070" stroke-width="1.1" />
<line x1="508.90" y1="1142.40" x2="508.90" y2="1148.40" stroke="#707070" stroke-width="1.1" />
<line x1="563.30" y1="1142.40" x2="563.30" y2="1148.40" stroke="#707070" stroke-width="1.1" />
<rect x="80.90" y="1069.90" width="19.80" height="72.50" fill="#27578f" />
<rect x="100.70" y="1055.00" width="19.80" height="87.40" fill="#a9a9a9" />
<rect x="135.20" y="1041.60" width="19.80" height="100.80" fill="#27578f" />
<rect x="155.00" y="1029.90" width="19.80" height="112.50" fill="#a9a9a9" />
<rect x="189.20" y="1023.80" width="19.80" height="118.60" fill="#27578f" />
<rect x="209.00" y="1007.50" width="19.80" height="134.90" fill="#a9a9a9" />
<rect x="243.80" y="1023.00" width="19.80" height="119.40" fill="#27578f" />
<rect x="263.60" y="1005.40" width="19.80" height="137.00" fill="#a9a9a9" />
<rect x="298.60" y="980.00" width="19.80" height="162.40" fill="#27578f" />
<rect x="318.40" y="986.20" width="19.80" height="156.20" fill="#a9a9a9" />
<rect x="352.90" y="1006.20" width="19.80" height="136.20" fill="#27578f" />
<rect x="372.70" y="1007.90" width="19.80" height="134.50" fill="#a9a9a9" />
<rect x="407.70" y="1016.90" width="19.80" height="125.50" fill="#27578f" />
<rect x="427.50" y="1012.80" width="19.80" height="129.60" fill="#a9a9a9" />
<rect x="516.40" y="1004.20" width="19.80" height="138.20" fill="#27578f" />
<rect x="536.20" y="1043.00" width="19.80" height="99.40" fill="#a9a9a9" />
<circle cx="89.6" cy="1053.9" r="2.1" fill="#000"/>
<circle cx="89.6" cy="1061.2" r="2.1" fill="#000"/>
<circle cx="89.6" cy="1081.6" r="2.1" fill="#000"/>
<circle cx="89.6" cy="1085.4" r="2.1" fill="#000"/>
<circle cx="110.1" cy="1036.4" r="2.1" fill="#000"/>
<circle cx="110.1" cy="1046.0" r="2.1" fill="#000"/>
<circle cx="110.1" cy="1064.1" r="2.1" fill="#000"/>
<circle cx="110.1" cy="1071.7" r="2.1" fill="#000"/>
<circle cx="144.5" cy="1030.8" r="2.1" fill="#000"/>
<circle cx="144.5" cy="1049.5" r="2.1" fill="#000"/>
<circle cx="144.5" cy="1053.9" r="2.1" fill="#000"/>
<circle cx="165.0" cy="1011.5" r="2.1" fill="#000"/>
<circle cx="165.0" cy="1015.9" r="2.1" fill="#000"/>
<circle cx="165.0" cy="1043.9" r="2.1" fill="#000"/>
<circle cx="165.0" cy="1048.3" r="2.1" fill="#000"/>
<circle cx="199.2" cy="1016.5" r="2.1" fill="#000"/>
<circle cx="199.2" cy="1023.0" r="2.1" fill="#000"/>
<circle cx="199.2" cy="1025.9" r="2.1" fill="#000"/>
<circle cx="199.2" cy="1030.0" r="2.1" fill="#000"/>
<circle cx="218.8" cy="996.4" r="2.1" fill="#000"/>
<circle cx="218.8" cy="1005.4" r="2.1" fill="#000"/>
<circle cx="218.8" cy="1009.5" r="2.1" fill="#000"/>
<circle cx="218.8" cy="1016.5" r="2.1" fill="#000"/>
<circle cx="252.8" cy="1016.9" r="2.1" fill="#000"/>
<circle cx="252.8" cy="1019.7" r="2.1" fill="#000"/>
<circle cx="252.8" cy="1021.8" r="2.1" fill="#000"/>
<circle cx="252.8" cy="1033.2" r="2.1" fill="#000"/>
<circle cx="273.6" cy="994.0" r="2.1" fill="#000"/>
<circle cx="273.6" cy="997.2" r="2.1" fill="#000"/>
<circle cx="273.6" cy="1008.7" r="2.1" fill="#000"/>
<circle cx="273.6" cy="1023.4" r="2.1" fill="#000"/>
<circle cx="306.7" cy="963.3" r="2.1" fill="#000"/>
<circle cx="306.7" cy="996.4" r="2.1" fill="#000"/>
<circle cx="328.0" cy="969.4" r="2.1" fill="#000"/>
<circle cx="328.0" cy="1003.4" r="2.1" fill="#000"/>
<circle cx="362.7" cy="992.7" r="2.1" fill="#000"/>
<circle cx="362.7" cy="1002.6" r="2.1" fill="#000"/>
<circle cx="362.7" cy="1025.9" r="2.1" fill="#000"/>
<circle cx="382.4" cy="1001.3" r="2.1" fill="#000"/>
<circle cx="382.4" cy="1004.2" r="2.1" fill="#000"/>
<circle cx="382.4" cy="1007.5" r="2.1" fill="#000"/>
<circle cx="382.4" cy="1021.0" r="2.1" fill="#000"/>
<circle cx="415.5" cy="1005.4" r="2.1" fill="#000"/>
<circle cx="415.5" cy="1006.6" r="2.1" fill="#000"/>
<circle cx="415.5" cy="1026.7" r="2.1" fill="#000"/>
<circle cx="415.5" cy="1028.7" r="2.1" fill="#000"/>
<circle cx="437.6" cy="1000.5" r="2.1" fill="#000"/>
<circle cx="437.6" cy="1004.6" r="2.1" fill="#000"/>
<circle cx="437.6" cy="1023.8" r="2.1" fill="#000"/>
<circle cx="525.7" cy="1000.5" r="2.1" fill="#000"/>
<circle cx="525.7" cy="1008.0" r="2.1" fill="#000"/>
<circle cx="546.5" cy="1042.2" r="2.1" fill="#000"/>
<circle cx="546.5" cy="1044.1" r="2.1" fill="#000"/>
<text x="100.30" y="1170.20" font-size="18" text-anchor="middle" fill="#000" >6</text>
<text x="154.75" y="1170.20" font-size="18" text-anchor="middle" fill="#000" >12</text>
<text x="209.20" y="1170.20" font-size="18" text-anchor="middle" fill="#000" >18</text>
<text x="263.65" y="1170.20" font-size="18" text-anchor="middle" fill="#000" >24</text>
<text x="318.10" y="1170.20" font-size="18" text-anchor="middle" fill="#000" >30</text>
<text x="372.55" y="1170.20" font-size="18" text-anchor="middle" fill="#000" >36</text>
<text x="427.00" y="1170.20" font-size="18" text-anchor="middle" fill="#000" >42</text>
<text x="536.10" y="1170.20" font-size="18" text-anchor="middle" fill="#000" >A549</text>
<text x="317.50" y="1193.20" font-size="18" text-anchor="middle" fill="#000" >Time post-infection (h)</text>
<rect x="441.20" y="939.10" width="13.00" height="13.00" fill="#27578f" />
<rect x="441.20" y="959.60" width="13.00" height="13.00" fill="#a9a9a9" />
<text x="461.60" y="950.60" font-size="15.5" text-anchor="start" fill="#000" >m<tspan font-size="10.5" dy="-7.1">6</tspan><tspan dy="7.1">A/A</tspan></text>
<text x="461.60" y="971.00" font-size="15.5" text-anchor="start" fill="#000" >m<tspan font-size="10.5" dy="-7.1">6</tspan><tspan dy="7.1">A/AUGC</tspan></text>
<text transform="translate(18.6,1140.2) rotate(-90)" font-size="18.4" font-family="Liberation Sans, sans-serif">m<tspan font-size="12.5" dy="-8.5">6</tspan><tspan dy="8.5">A/A in poly-A RNA (%)</tspan></text>
<text transform="translate(614.5,916.3) rotate(90)" font-size="18.4" font-family="Liberation Sans, sans-serif">m<tspan font-size="12.5" dy="-8.5">6</tspan><tspan dy="8.5">A/AUGC in poly-A RNA (%)</tspan></text>
</svg>
</body></html>
